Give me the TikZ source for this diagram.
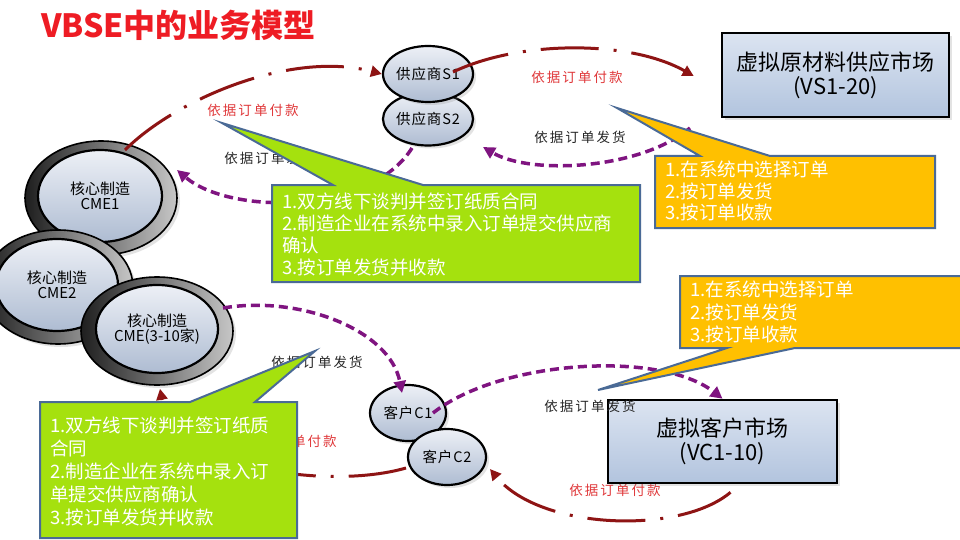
\documentclass[tikz,border=0pt]{standalone}
\usepackage{fontspec}
\setmainfont{Noto Sans CJK SC}
\newfontfamily\lblfont{Noto Sans CJK SC}[LetterSpace=15]
\newfontfamily\elfont{Noto Sans CJK SC}[LetterSpace=6]
\usetikzlibrary{shapes.geometric,arrows.meta,calc,shadows}
\definecolor{arcred}{HTML}{8E1414}
\definecolor{arcpurple}{HTML}{7F1480}
\definecolor{lblred}{HTML}{E0383A}
\definecolor{callgreen}{HTML}{A5E10E}
\definecolor{callorange}{HTML}{FFC000}
\definecolor{calledge}{HTML}{4A6A96}
\definecolor{boxtop}{HTML}{DCE4F1}
\definecolor{boxbot}{HTML}{B2C4DE}
\definecolor{elltop}{HTML}{EDF0F6}
\definecolor{ellbot}{HTML}{AEBCD2}
\definecolor{titlered}{HTML}{EE1C24}
\tikzset{
  softshadow/.style={drop shadow={shadow xshift=3pt, shadow yshift=-3pt, opacity=0.22}},
  ellnode/.style={ellipse, draw=black, line width=2.2pt, top color=elltop, bottom color=ellbot,
    inner sep=0pt, font=\elfont\fontsize{14.5}{16}\selectfont, softshadow},
  ringnode/.style={ellipse, draw=black, line width=1.6pt, left color=black!88, right color=black!22,
    inner sep=0pt, softshadow},
  corenode/.style={ellipse, draw=black, line width=2.2pt, top color=elltop, bottom color=ellbot,
    inner sep=0pt, align=center, font=\fontsize{15}{15.5}\selectfont},
  market/.style={rectangle, draw=black, line width=2.6pt, top color=boxtop, bottom color=boxbot,
    align=center, inner sep=0pt, font=\fontsize{22}{24}\selectfont, softshadow},
  redarc/.style={draw=arcred, line width=3pt, dash pattern=on 58pt off 15pt on 3pt off 15pt,
    -{Triangle[length=11pt,width=11pt]}},
  purplearc/.style={draw=arcpurple, line width=3.5pt, dash pattern=on 9pt off 5pt,
    -{Triangle[length=12pt,width=12pt]}},
  redlbl/.style={text=lblred, inner sep=0pt, font=\lblfont\fontsize{13.5}{15}\selectfont},
  blklbl/.style={text=black!85, inner sep=0pt, font=\lblfont\fontsize{13.5}{15}\selectfont},
  callbox/.style={draw=calledge, line width=2pt, line join=miter},
  calltext/.style={text=white, align=left, anchor=north west, inner sep=0pt},
}
\begin{document}
\begin{tikzpicture}[x=1pt,y=-1pt]
\useasboundingbox (0,0) rectangle (960,540);
\fill[white] (0,0) rectangle (960,540);

% title
\node[anchor=west, text=titlered, inner sep=0pt, font=\bfseries\fontsize{32}{35}\selectfont] (title) at (41,25) {VBSE中的业务模型};

% manufacturers
\node[ringnode, minimum width=152pt, minimum height=114pt] (cme1o) at (101,198) {};
\node[corenode, minimum width=124pt, minimum height=92pt] (cme1) at (100,196) {核心制造\\CME1};
\node[ringnode, minimum width=150pt, minimum height=114pt] (cme2o) at (58,287) {};
\node[corenode, minimum width=122pt, minimum height=92pt] (cme2) at (57,285) {核心制造\\CME2};
\node[ringnode, minimum width=152pt, minimum height=108pt] (cme3o) at (157,331) {};
\node[corenode, minimum width=122pt, minimum height=88pt] (cme3) at (157,329) {核心制造\\CME(3-10家)};

% suppliers
\node[ellnode, minimum width=78pt, minimum height=53pt] (s2) at (428,119) {供应商S2};
\node[ellnode, minimum width=80pt, minimum height=56pt] (s1) at (428,74) {供应商S1};

% customers
\node[ellnode, minimum width=76pt, minimum height=56pt] (c1) at (408,413) {客户C1};
\node[ellnode, minimum width=78pt, minimum height=56pt] (c2) at (447,457) {客户C2};

% markets
\node[market, minimum width=227pt, minimum height=84pt] (vs) at (835.5,75) {虚拟原材料供应市场\\(VS1-20)};
\node[redlbl] (l7) at (615,490) {依据订单付款};
\node[market, minimum width=229pt, minimum height=83pt] (vc) at (722.5,441.5) {虚拟客户市场\\(VC1-10)};

% connectors
\coordinate (vsfoot) at (690,128);
\draw[redarc] ($(cme1o.center)+(24,-48)$) .. controls (175,100) and (290,50) .. (s1.west);
\draw[redarc] ($(s1.center)+(25,-2)$) .. controls (520,40) and (630,40) .. ($(vs.west)+(-27,1)$);
\draw[purplearc] (vsfoot) .. controls (640,170) and (530,175) .. ($(s2.center)+(55,28)$);
\draw[purplearc] ($(s2.center)+(-16,29)$) .. controls (370,215) and (230,215) .. ($(cme1o.center)+(76,-28)$);
\draw[purplearc] ($(cme3o.center)+(66,-23)$) .. controls (300,295) and (390,330) .. ($(c1.center)+(-6,-20)$);
\draw[purplearc] ($(c1.center)+(25,0)$) .. controls (500,360) and (660,350) .. (vc.north);
\draw[redarc] ($(vc.south)+(8,8)$) .. controls (680,535) and (540,530) .. ($(c2.center)+(43,12)$);
\draw[redarc] ($(c2.center)+(-41,11)$) .. controls (330,490) and (175,470) .. ($(cme3o.south)+(3,3)$);

% labels
\node[redlbl] (l1) at (253,110) {依据订单付款};
\node[blklbl] (l2) at (270,158) {依据订单发货};
\node[redlbl] (l3) at (577,77) {依据订单付款};
\node[blklbl] (l4) at (580,137) {依据订单发货};
\node[blklbl] (l5) at (317,362) {依据订单发货};
\node[blklbl] (l6) at (590,406) {依据订单发货};
\node[redlbl] (l8) at (291,441) {依据订单付款};

% callouts
\path[callbox, fill=callgreen] (272,185) -- (333,185) -- (222,123) -- (423,185) -- (640,185) -- (640,282) -- (272,282) -- cycle;
\node[calltext, font=\fontsize{18.5}{22}\selectfont] (g1) at (282,193)
  {1.双方线下谈判并签订纸质合同\\2.制造企业在系统中录入订单提交供应商\\确认\\3.按订单发货并收款};

\path[callbox, fill=callorange] (655,156) -- (700,156) -- (617,108) -- (770,156) -- (935,156) -- (935,228) -- (655,228) -- cycle;
\node[calltext, font=\fontsize{18.5}{21.5}\selectfont] (o1) at (665,161)
  {1.在系统中选择订单\\2.按订单发货\\3.按订单收款};

\path[callbox, fill=callgreen] (40,402) -- (190,402) -- (315,351) -- (255,402) -- (297,402) -- (297,538) -- (40,538) -- cycle;
\node[calltext, font=\fontsize{18.5}{23}\selectfont] (g2) at (50,417)
  {1.双方线下谈判并签订纸质\\合同\\2.制造企业在系统中录入订\\单提交供应商确认\\3.按订单发货并收款};

\path[callbox, fill=callorange] (680,276) -- (966,276) -- (966,348) -- (795,348) -- (598,390) -- (727,348) -- (680,348) -- cycle;
\node[calltext, font=\fontsize{18.5}{22.5}\selectfont] (o2) at (690,281)
  {1.在系统中选择订单\\2.按订单发货\\3.按订单收款};
\end{tikzpicture}
\end{document}
